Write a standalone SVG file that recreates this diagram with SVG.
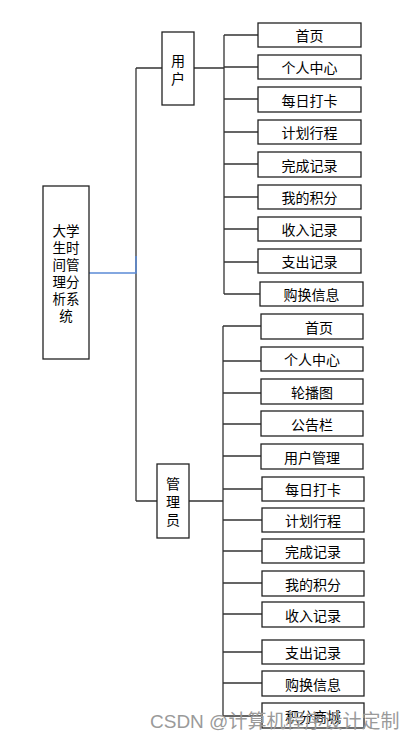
<svg xmlns="http://www.w3.org/2000/svg" width="416" height="741" viewBox="0 0 416 741">
<style>
.box{fill:#fff;stroke:#222;stroke-width:1.3}
.t{font-family:"Noto Sans CJK SC","Noto Sans",sans-serif;font-size:14px;fill:#000;text-anchor:middle;dominant-baseline:central}
.r{font-size:13.5px}
.ln{fill:none;stroke:#333;stroke-width:1.3}
.wm{font-family:"Liberation Sans","Noto Sans CJK SC",sans-serif;font-size:19px;fill:#9a9a9a;text-anchor:start;dominant-baseline:central}
</style>
<rect width="416" height="741" fill="#fff"/>
<g id="connectors">
<path class="ln" d="M136,68 V501 M136,68 H162 M136,501 H157"/>
<path d="M89,273 H136 V256" fill="none" stroke="#5b8ad6" stroke-width="1.5"/>
<path class="ln" d="M194,68 H224 M224,35 V294 M224,35 H258 M224,67 H258 M224,99 H258 M224,132 H258 M224,164 H258 M224,197 H258 M224,229 H258 M224,262 H258 M224,294 H260"/>
<path class="ln" d="M189,501 H223 M223,326 V716 M223,326 H261 M223,361 H261 M223,393 H261 M223,424 H261 M223,456 H261 M223,489 H262 M223,520 H262 M223,551 H262 M223,583 H262 M223,614 H262 M223,652 H262 M223,683 H262 M223,716 H262"/>
</g>
<g id="root">
<rect class="box" x="43" y="186" width="46" height="173"/>
<text class="t r" x="66" y="230">大学</text>
<text class="t r" x="66" y="247">生时</text>
<text class="t r" x="66" y="264">间管</text>
<text class="t r" x="66" y="281">理分</text>
<text class="t r" x="66" y="298">析系</text>
<text class="t r" x="66" y="315">统</text>
</g>
<g id="user">
<rect class="box" x="162" y="32" width="32" height="73"/>
<text class="t" x="178" y="60">用</text>
<text class="t" x="178" y="78">户</text>
</g>
<g id="admin">
<rect class="box" x="157" y="464" width="32" height="74"/>
<text class="t" x="173" y="483">管</text>
<text class="t" x="173" y="501">理</text>
<text class="t" x="173" y="519">员</text>
</g>
<g id="u1"><rect class="box" x="258" y="23" width="103" height="24"/><text class="t" x="309.5" y="35">首页</text></g>
<g id="u2"><rect class="box" x="258" y="55" width="103" height="24"/><text class="t" x="309.5" y="67">个人中心</text></g>
<g id="u3"><rect class="box" x="258" y="87" width="103" height="25"/><text class="t" x="309.5" y="99.5">每日打卡</text></g>
<g id="u4"><rect class="box" x="258" y="120" width="103" height="24"/><text class="t" x="309.5" y="132">计划行程</text></g>
<g id="u5"><rect class="box" x="258" y="152" width="103" height="25"/><text class="t" x="309.5" y="164.5">完成记录</text></g>
<g id="u6"><rect class="box" x="258" y="185" width="103" height="24"/><text class="t" x="309.5" y="197">我的积分</text></g>
<g id="u7"><rect class="box" x="258" y="217" width="103" height="24"/><text class="t" x="309.5" y="229">收入记录</text></g>
<g id="u8"><rect class="box" x="258" y="249" width="103" height="24"/><text class="t" x="309.5" y="261">支出记录</text></g>
<g id="u9"><rect class="box" x="260" y="282" width="103" height="24"/><text class="t" x="311.5" y="294">购换信息</text></g>
<g id="a1"><rect class="box" x="261" y="314" width="102" height="25"/><text class="t" x="319" y="326.5">首页</text></g>
<g id="a2"><rect class="box" x="261" y="347" width="102" height="24"/><text class="t" x="312" y="359">个人中心</text></g>
<g id="a3"><rect class="box" x="261" y="379" width="102" height="25"/><text class="t" x="312" y="391.5">轮播图</text></g>
<g id="a4"><rect class="box" x="261" y="411" width="102" height="25"/><text class="t" x="312" y="423.5">公告栏</text></g>
<g id="a5"><rect class="box" x="261" y="444" width="102" height="25"/><text class="t" x="312" y="456.5">用户管理</text></g>
<g id="a6"><rect class="box" x="262" y="477" width="102" height="24"/><text class="t" x="313" y="489">每日打卡</text></g>
<g id="a7"><rect class="box" x="262" y="508" width="102" height="24"/><text class="t" x="313" y="520">计划行程</text></g>
<g id="a8"><rect class="box" x="262" y="539" width="102" height="24"/><text class="t" x="313" y="551">完成记录</text></g>
<g id="a9"><rect class="box" x="262" y="571" width="102" height="25"/><text class="t" x="313" y="583.5">我的积分</text></g>
<g id="a10"><rect class="box" x="262" y="602" width="102" height="25"/><text class="t" x="313" y="614.5">收入记录</text></g>
<g id="a11"><rect class="box" x="262" y="640" width="102" height="24"/><text class="t" x="313" y="652">支出记录</text></g>
<g id="a12"><rect class="box" x="262" y="671" width="102" height="25"/><text class="t" x="313" y="683.5">购换信息</text></g>
<g id="a13"><rect class="box" x="262" y="703" width="102" height="25"/><text class="t" x="313" y="715.5">积分商城</text></g>
<text class="wm" x="150" y="721">CSDN @计算机程序设计定制</text>
</svg>
